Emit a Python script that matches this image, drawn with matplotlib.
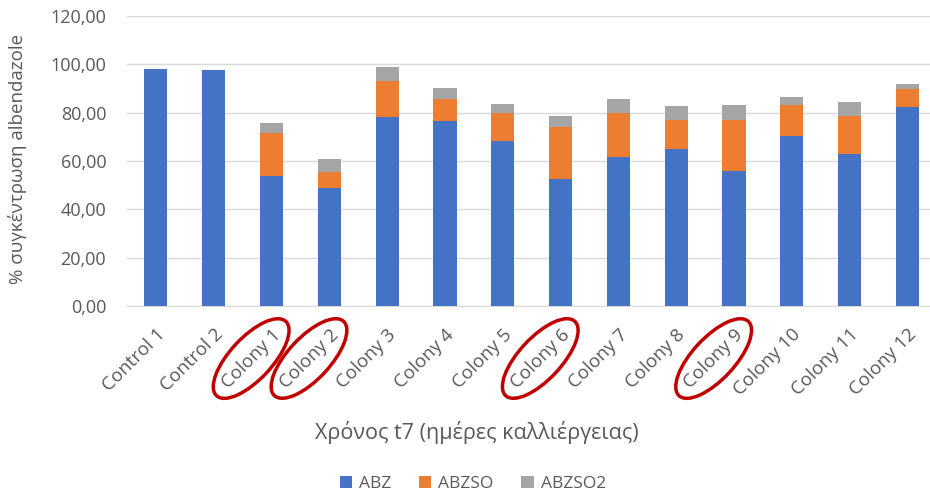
import matplotlib
matplotlib.use("Agg")
import matplotlib.pyplot as plt
from matplotlib.patches import Ellipse
import numpy as np

categories = ["Control 1", "Control 2", "Colony 1", "Colony 2", "Colony 3", "Colony 4",
              "Colony 5", "Colony 6", "Colony 7", "Colony 8", "Colony 9", "Colony 10",
              "Colony 11", "Colony 12"]
abz = [98.2, 97.6, 53.9, 49.0, 78.1, 76.5, 68.2, 52.7, 61.5, 65.1, 55.7, 70.4, 62.7, 82.4]
abzso = [0.0, 0.0, 17.8, 6.6, 15.0, 9.3, 11.8, 21.4, 18.5, 11.9, 21.3, 12.6, 16.1, 7.2]
abzso2 = [0.0, 0.0, 4.1, 5.4, 5.7, 4.2, 3.5, 4.4, 5.8, 5.8, 6.0, 3.6, 5.8, 2.4]
series_names = ["ABZ", "ABZSO", "ABZSO2"]
highlighted = ["Colony 1", "Colony 2", "Colony 6", "Colony 9"]
y_ticks = [0, 20, 40, 60, 80, 100, 120]

colors = ["#4472C4", "#ED7D31", "#A5A5A5"]
text_color = "#595959"
font = ["Open Sans", "DejaVu Sans"]

plt.rcParams["font.family"] = font

fig = plt.figure(figsize=(9.3, 4.99), dpi=100)
ax = fig.add_axes([127 / 930, 1 - 306 / 499, (930 - 127) / 930, (306 - 16) / 499])

x = np.arange(len(categories))
bottom = np.zeros(len(categories))
for vals, name, c in zip([abz, abzso, abzso2], series_names, colors):
    ax.bar(x, vals, width=0.4, bottom=bottom, color=c, label=name, zorder=3)
    bottom += np.array(vals)

ax.set_ylim(0, 120)
ax.set_xlim(-0.5, 13.39)
ax.set_yticks(y_ticks)
ax.set_yticklabels([f"{v:.2f}".replace(".", ",") for v in y_ticks],
                   color=text_color, fontsize=13)
ax.yaxis.grid(True, color="#D9D9D9", linewidth=1, zorder=0)
ax.set_xticks(x)
ax.set_xticklabels(categories, rotation=45, ha="right", rotation_mode="anchor",
                   color=text_color, fontsize=13.5)
ax.tick_params(axis="both", length=0)
ax.tick_params(axis="y", pad=15)
ax.tick_params(axis="x", pad=14)
for s in ["top", "right", "left"]:
    ax.spines[s].set_visible(False)
ax.spines["bottom"].set_color("#D9D9D9")

ax.set_ylabel("% συγκέντρωση albendazole", color=text_color, fontsize=13.5)
ax.yaxis.set_label_coords((27 - 127) / 803, (306 - 159) / 290)
ax.set_xlabel("Χρόνος t7 (ημέρες καλλιέργειας)", color=text_color, fontsize=15.5)
ax.xaxis.set_label_coords((477 - 127) / 803, -(432 - 306) / 290)
ax.xaxis.label.set_va("center")

leg = fig.legend(loc="center", bbox_to_anchor=(473 / 930, 1 - 484 / 499), ncol=3,
                 frameon=False, fontsize=12.5, handlelength=0.7, handleheight=0.7,
                 handletextpad=0.4, columnspacing=1.6)
for t in leg.get_texts():
    t.set_color(text_color)

# red hand-drawn style ovals around selected colony labels
fig.canvas.draw()
for lbl in ax.get_xticklabels():
    if lbl.get_text() in highlighted:
        bb = lbl.get_window_extent()
        cx, cy = (bb.x0 + bb.x1) / 2, (bb.y0 + bb.y1) / 2
        length = np.hypot(bb.width, bb.height)
        e = Ellipse((cx, cy), width=length * 0.85 + 22, height=42, angle=47,
                    transform=None, fill=False, edgecolor="#C00000", linewidth=2.5,
                    zorder=10)
        fig.patches.append(e)

fig.savefig("out.png", dpi=100)
